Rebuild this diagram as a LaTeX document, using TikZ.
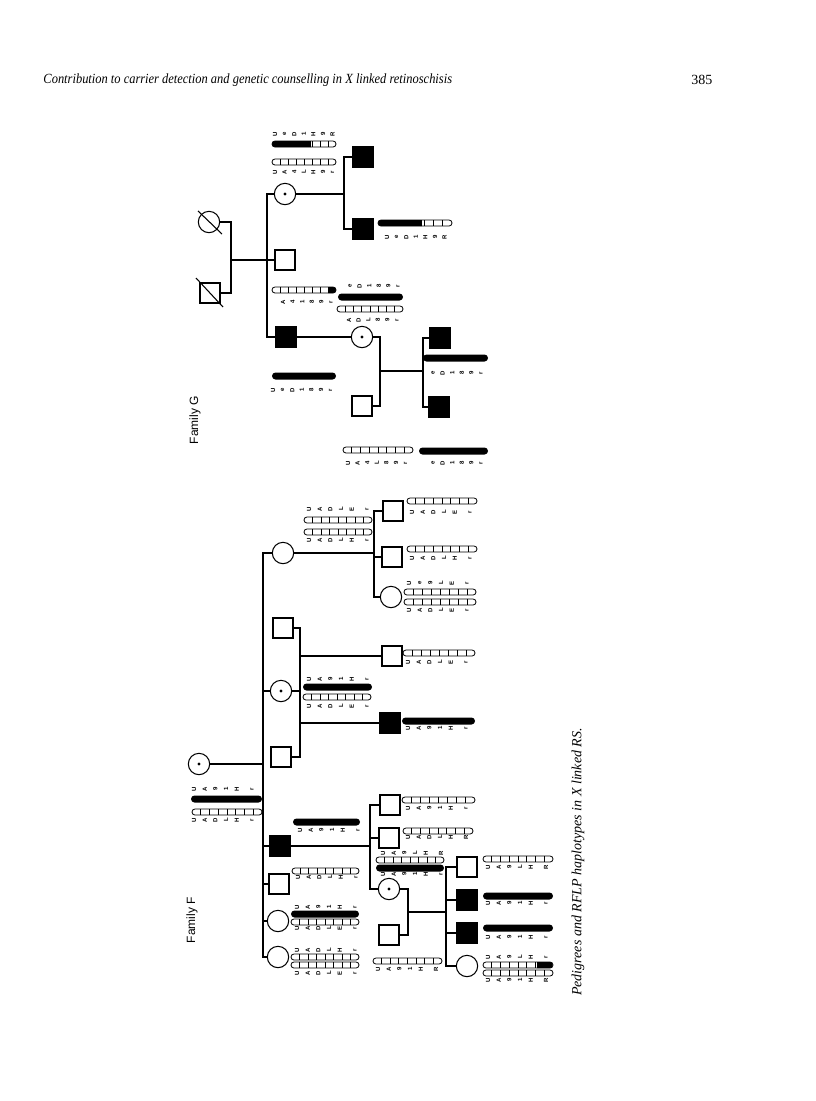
\documentclass[tikz,border=0pt]{standalone}
\usepackage{fontspec}
\setmainfont{Liberation Serif}
\setsansfont{Liberation Sans}

\tikzset{
  male/.style={draw, line width=1.5pt, minimum size=15pt, inner sep=0pt},
  female/.style={circle, draw, line width=0.8pt, minimum size=16pt, inner sep=0pt},
  affected/.style={fill=black},
  carrier/.style={path picture={\fill (path picture bounding box.center) circle (1.3pt);}},
  allele/.style={rotate=90, inner sep=0pt, font=\fontsize{4.5}{4.5}\selectfont\sffamily\bfseries},
  bar/.style={line width=0.6pt, rounded corners=2.2pt},
  famlabel/.style={rotate=90, font=\sffamily\fontsize{9}{9}\selectfont}
}

% haplotype bars: x, y, length
\newcommand{\openbar}[3]{%
  \draw[bar] ({#1},{#2-3}) rectangle ({#1+#3},{#2+3});
  \foreach \k in {1,...,7}
    \draw[line width=0.6pt] ({#1+\k*#3/8},{#2-3}) -- ({#1+\k*#3/8},{#2+3});}
\newcommand{\solidbar}[3]{%
  \fill[rounded corners=2.6pt] ({#1},{#2-3.5}) rectangle ({#1+#3},{#2+3.5});}
\newcommand{\partbar}[5]{%
  \begin{scope}
    \clip[rounded corners=2.2pt] ({#1},{#2-3}) rectangle ({#1+#3},{#2+3});
    \fill ({#4},{#2-3.5}) rectangle ({#5},{#2+3.5});
  \end{scope}
  \openbar{#1}{#2}{#3}}
% allele rows
\newcommand{\frow}[4]{%
  \foreach \ch [count=\i] in {#3}
    \node[allele] at ({#1+5+(\i-1)*10.7},{#2}) {\ch};
  \node[allele] at ({#1+63},{#2}) {#4};}
\newcommand{\grow}[3]{%
  \foreach \ch [count=\i] in {#3}
    \node[allele] at ({#1+3+(\i-1)*9.6},{#2}) {\ch};}

\begin{document}
\begin{tikzpicture}[x=0.75pt,y=-0.75pt,line width=0.8pt]
\useasboundingbox (0,0) rectangle (816,1101);

\node[anchor=west, inner sep=0, xscale=0.89, font=\itshape\fontsize{10.5}{12}\selectfont] (head) at (43,80)
  {Contribution to carrier detection and genetic counselling in X linked retinoschisis};
\node[anchor=east, inner sep=0, font=\fontsize{10.5}{12}\selectfont] (page) at (713,80) {385};

% Family G
\node[famlabel] (famG) at (195,420) {Family G};

\node[female] (G1f) at (209,222) {};
\draw (G1f.center) ++(-11,-11) -- ++(24,23);
\node[male] (G1m) at (210,293) {};
\draw (G1m.center) ++(-14,-15) -- ++(27,29);
\coordinate (Gm) at (231,260);
\coordinate (Gs) at (267,260);
\draw (G1f.east) -| (Gm) |- (G1m.east);
\draw (Gm) -- (Gs);

\node[female, carrier] (G2a) at (285,194) {};
\node[male] (G2b) at (285,260) {};
\node[male, affected] (G2c) at (286,337) {};
\draw (G2a.west) -| (Gs) |- (G2c.west);
\draw (Gs) -- (G2b.west);
\node[female, carrier] (G2d) at (362,337) {};
\draw (G2c.east) -- (G2d.west);

\node[male, affected] (G3a) at (363,157) {};
\node[male, affected] (G3b) at (363,229) {};
\coordinate (Ga) at (344,194);
\draw (G2a.east) -- (Ga);
\draw (G3a.west) -| (Ga) |- (G3b.west);

\node[male] (G3c) at (362,406) {};
\coordinate (Gc) at (380,371);
\coordinate (Gd) at (423,371);
\draw (G2d.east) -| (Gc) |- (G3c.east);
\draw (Gc) -- (Gd);
\node[male, affected] (G4a) at (440,338) {};
\node[male, affected] (G4b) at (439,407) {};
\draw (G4a.west) -| (Gd) |- (G4b.west);

\grow{272}{134}{U,e,D,1,H,9,R}
\partbar{272}{144}{64}{272}{311}
\openbar{272}{162}{64}
\grow{272}{172}{U,A,4,L,H,9,r}
\partbar{378}{223}{74}{378}{422}
\grow{384}{237}{U,e,D,1,H,9,R}
\partbar{272}{290}{64}{328}{336}
\grow{280}{302}{A,4,1,8,9,r}
\grow{347}{286}{e,D,1,8,9,r}
\solidbar{338}{297}{65}
\openbar{337}{309}{66}
\grow{346}{320}{A,D,L,8,9,r}
\solidbar{272}{376}{64}
\grow{270}{390}{U,e,D,1,8,9,r}
\solidbar{423}{358}{65}
\grow{430}{373}{e,D,1,8,9,r}
\openbar{343}{450}{70}
\grow{345}{463}{U,A,4,L,8,9,r}
\solidbar{419}{451}{69}
\grow{430}{463}{e,D,1,8,9,r}

% Family F
\node[famlabel] (famF) at (192,920) {Family F};

\node[female, carrier] (F1) at (199,764) {};
\coordinate (Fs) at (263,764);
\draw (F1.east) -- (Fs);
\node[female] (F2a) at (283,553) {};
\node[male] (F2b) at (283,628) {};
\node[female, carrier] (F2c) at (281,691) {};
\node[male] (F2d) at (281,757) {};
\node[male, affected] (F2e) at (280,846) {};
\node[male] (F2f) at (279,884) {};
\node[female] (F2g) at (278,921) {};
\node[female] (F2h) at (278,957) {};
\draw (F2a.west) -| (Fs) |- (F2h.west);
\foreach \n in {F2c,F2e,F2f,F2g}
  \draw (\n.west) -- (\n.west -| Fs);

\coordinate (Fa) at (374,553);
\draw (F2a.east) -- (Fa);
\node[male] (F3a) at (393,511) {};
\node[male] (F3b) at (392,557) {};
\node[female] (F3c) at (391,597) {};
\draw (F3a.west) -| (Fa) |- (F3c.west);
\draw (F3b.west) -- (F3b.west -| Fa);

\coordinate (Fb) at (300,656);
\coordinate (Fc) at (300,723);
\draw (F2b.east) -| (Fb) -- (Fc) |- (F2d.east);
\draw (F2c.east) -- (F2c.east -| Fb);
\node[male] (F3d) at (392,656) {};
\node[male, affected] (F3e) at (390,723) {};
\draw (Fb) -- (F3d.west);
\draw (Fc) -- (F3e.west);

\coordinate (Fe) at (370,846);
\draw (F2e.east) -- (Fe);
\node[male] (F3f) at (390,805) {};
\node[male] (F3g) at (389,838) {};
\node[female, carrier] (F3h) at (389,889) {};
\draw (F3f.west) -| (Fe) |- (F3h.west);
\draw (F3g.west) -- (F3g.west -| Fe);

\node[male] (F3i) at (389,935) {};
\coordinate (Fh) at (408,912);
\coordinate (Fk) at (446,912);
\draw (F3h.east) -| (Fh) |- (F3i.east);
\draw (Fh) -- (Fk);
\node[male] (F4a) at (467,867) {};
\node[male, affected] (F4b) at (467,900) {};
\node[male, affected] (F4c) at (467,933) {};
\node[female] (F4d) at (467,966) {};
\draw (F4a.west) -| (Fk) |- (F4d.west);
\foreach \n in {F4b,F4c}
  \draw (\n.west) -- (\n.west -| Fk);

\frow{189}{789}{U,A,9,1,H}{r}
\solidbar{191}{799}{71}
\openbar{192}{812}{70}
\frow{189}{820}{U,A,D,L,H}{r}

\frow{304}{509}{U,A,D,L,E}{r}
\openbar{304}{520}{68}
\openbar{304}{532}{68}
\frow{304}{540}{U,A,D,L,H}{r}
\openbar{407}{501}{70}
\frow{407}{512}{U,A,D,L,E}{r}
\openbar{407}{549}{70}
\frow{407}{558}{U,A,D,L,H}{r}
\frow{404}{583}{U,e,9,L,E}{r}
\openbar{404}{592}{72}
\openbar{404}{602}{72}
\frow{404}{610}{U,A,D,L,E}{r}

\frow{304}{679}{U,A,9,1,H}{r}
\solidbar{303}{687}{69}
\openbar{303}{697}{68}
\frow{304}{706}{U,A,D,L,E}{r}
\openbar{403}{653}{72}
\frow{403}{662}{U,A,D,L,E}{r}
\solidbar{402}{721}{73}
\frow{403}{728}{U,A,9,1,H}{r}

\solidbar{293}{822}{67}
\frow{295}{830}{U,A,9,1,H}{r}
\openbar{292}{871}{67}
\frow{293}{877}{U,A,D,L,H}{r}
\frow{292}{907}{U,A,9,1,H}{r}
\solidbar{291}{914}{68}
\openbar{291}{922}{68}
\frow{292}{928}{U,A,D,L,E}{r}
\frow{292}{950}{U,A,D,L,H}{r}
\openbar{291}{957}{68}
\openbar{291}{965}{68}
\frow{292}{973}{U,A,D,L,E}{r}

\openbar{402}{800}{73}
\frow{403}{808}{U,A,9,1,H}{r}
\openbar{403}{831}{70}
\frow{403}{837}{U,A,D,L,H}{R}
\frow{378}{853}{U,A,9,L,H}{R}
\openbar{376}{860}{68}
\solidbar{376}{868}{68}
\frow{378}{874}{U,A,9,1,H}{r}
\openbar{373}{961}{69}
\frow{373}{969}{U,A,9,1,H}{R}

\openbar{483}{859}{70}
\frow{483}{867}{U,A,9,L,H}{R}
\solidbar{483}{896}{70}
\frow{483}{903}{U,A,9,1,H}{r}
\solidbar{483}{928}{70}
\frow{483}{937}{U,A,9,1,H}{r}
\frow{483}{957}{U,A,9,L,H}{r}
\partbar{483}{965}{70}{537}{553}
\openbar{483}{973}{70}
\frow{483}{980}{U,A,9,1,H}{R}

\node[rotate=90, font=\itshape\fontsize{10.5}{12}\selectfont] (cap) at (578,862)
  {Pedigrees and RFLP haplotypes in X linked RS.};
\end{tikzpicture}
\end{document}
